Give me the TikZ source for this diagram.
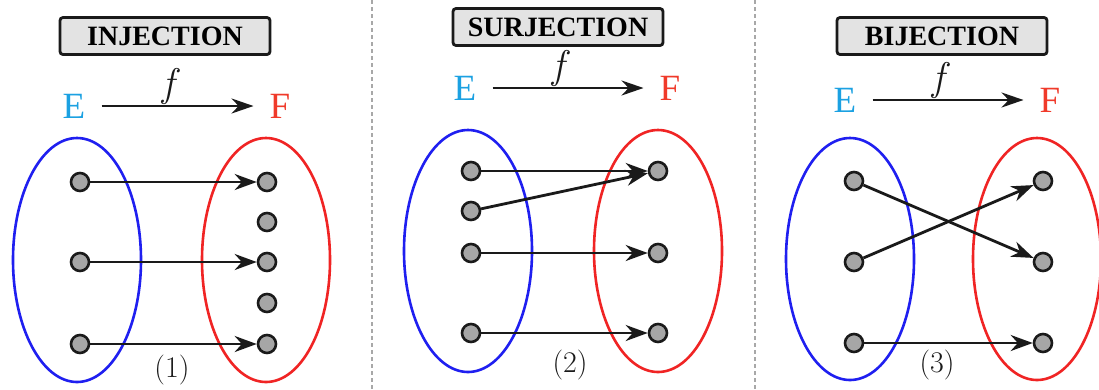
\documentclass[tikz,border=0pt]{standalone}
\usepackage{fontspec}
\newfontfamily\tnr{Liberation Serif}
\usetikzlibrary{arrows.meta}
\definecolor{ecol}{HTML}{1BA1E2}
\definecolor{fcol}{HTML}{F03A2A}
\definecolor{bluel}{HTML}{1F1FF0}
\definecolor{redl}{HTML}{F02424}
\definecolor{dotfill}{HTML}{A6A6A6}
\definecolor{ink}{HTML}{1A1A1A}
\definecolor{boxfill}{HTML}{E3E3E3}
\definecolor{sepcol}{HTML}{A8A8A8}
\begin{document}
\begin{tikzpicture}[x=1pt,y=-1pt,
  titlebox/.style={draw=ink, line width=2.8pt, fill=boxfill, rounded corners=3pt,
    minimum width=210pt, minimum height=37pt, inner sep=0pt,
    font=\tnr\bfseries\fontsize{28}{30}\selectfont},
  setE/.style={text=ecol, inner sep=0pt, font=\tnr\fontsize{37}{40}\selectfont},
  setF/.style={text=fcol, inner sep=0pt, font=\tnr\fontsize{37}{40}\selectfont},
  farrow/.style={draw=ink, line width=2.8pt, -{Stealth[length=22pt,width=15pt]},
    shorten <=16pt, shorten >=16pt},
  flabel/.style={pos=0.45, above, inner sep=0pt, text=ink, font=\fontsize{40}{42}\selectfont\itshape},
  blueset/.style={draw=bluel, line width=2.6pt},
  redset/.style={draw=redl, line width=2.6pt},
  dot/.style={circle, draw=ink, fill=dotfill, line width=2.6pt, minimum size=18pt, inner sep=0pt},
  conn/.style={draw=ink, line width=2.8pt, -{Stealth[length=22pt,width=16pt]}},
  numlabel/.style={text=ink, inner sep=0pt, font=\fontsize{30}{32}\selectfont},
  sepline/.style={draw=sepcol, line width=1.2pt, dash pattern=on 4pt off 3pt}
]
\useasboundingbox (0,0) rectangle (1099,389);
\fill[white] (0,0) rectangle (1099,389);

% separators
\draw[sepline] (372,0) -- (372,389);
\draw[sepline] (755,0) -- (755,389);

% ---------- Panel 1: injection ----------
\node[titlebox] (t1) at (165,36) {INJECTION};
\node[setE] (E1) at (74,106) {E};
\node[setF] (F1) at (280,106) {F};
\draw[farrow] (E1) -- node[flabel] (f1) {f} (F1);
\draw[blueset] (77,260) ellipse [x radius=64, y radius=122];
\draw[redset] (266,260) ellipse [x radius=64, y radius=122];
\node[dot] (a1) at (80,182) {};
\node[dot] (a2) at (80,262) {};
\node[dot] (a3) at (80,344) {};
\node[dot] (b1) at (267,182) {};
\node[dot] (b2) at (267,222) {};
\node[dot] (b3) at (267,262) {};
\node[dot] (b4) at (267,303) {};
\node[dot] (b5) at (267,344) {};
\draw[conn] (a1) -- (b1);
\draw[conn] (a2) -- (b3);
\draw[conn] (a3) -- (b5);
\node[numlabel] (n1) at (172,370) {(1)};

% ---------- Panel 2: surjection ----------
\node[titlebox] (t2) at (558,27) {SURJECTION};
\node[setE] (E2) at (465,88) {E};
\node[setF] (F2) at (670,88) {F};
\draw[farrow] (E2) -- node[flabel] (f2) {f} (F2);
\draw[blueset] (468,251) ellipse [x radius=64, y radius=121];
\draw[redset] (658,251) ellipse [x radius=64, y radius=121];
\node[dot] (c1) at (471,171) {};
\node[dot] (c2) at (471,211) {};
\node[dot] (c3) at (471,253) {};
\node[dot] (c4) at (471,333) {};
\node[dot] (d1) at (658,171) {};
\node[dot] (d2) at (658,253) {};
\node[dot] (d3) at (658,333) {};
\draw[conn] (c1) -- (d1);
\draw[conn] (c2) -- (d1);
\draw[conn] (c3) -- (d2);
\draw[conn] (c4) -- (d3);
\node[numlabel] (n2) at (570,365) {(2)};

% ---------- Panel 3: bijection ----------
\node[titlebox] (t3) at (942,36) {BIJECTION};
\node[setE] (E3) at (845,100) {E};
\node[setF] (F3) at (1050,100) {F};
\draw[farrow] (E3) -- node[flabel] (f3) {f} (F3);
\draw[blueset] (850,259) ellipse [x radius=64, y radius=121];
\draw[redset] (1037,259) ellipse [x radius=64, y radius=121];
\node[dot] (e1) at (854,181) {};
\node[dot] (e2) at (854,262) {};
\node[dot] (e3) at (854,343) {};
\node[dot] (g1) at (1043,181) {};
\node[dot] (g2) at (1043,262) {};
\node[dot] (g3) at (1043,343) {};
\draw[conn] (e1) -- (g2);
\draw[conn] (e2) -- (g1);
\draw[conn] (e3) -- (g3);
\node[numlabel] (n3) at (937,365) {(3)};
\end{tikzpicture}
\end{document}
